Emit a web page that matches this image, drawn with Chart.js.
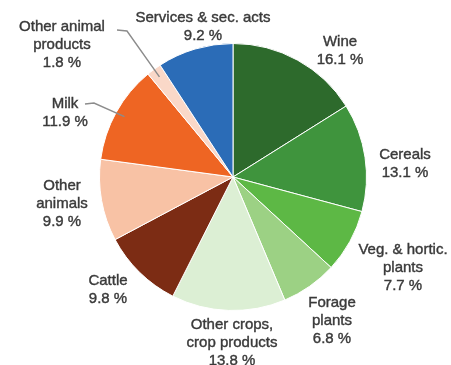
<!DOCTYPE html>
<html>
<head>
<meta charset="utf-8">
<script src="https://cdn.jsdelivr.net/npm/chart.js@4.4.1/dist/chart.umd.min.js"></script>
<style>
  html, body { margin: 0; padding: 0; background: #ffffff; }
  #wrap { width: 451px; height: 365px; }
</style>
</head>
<body>
<div id="wrap"><canvas id="pie" width="451" height="365"></canvas></div>
<script>
// Share of agricultural output by product, clockwise from the top
const categories = [
  'Wine', 'Cereals', 'Veg. & hortic. plants', 'Forage plants',
  'Other crops, crop products', 'Cattle', 'Other animals', 'Milk',
  'Other animal products', 'Services & sec. acts'
];
const shares = [16.1, 13.1, 7.7, 6.8, 13.8, 9.8, 9.9, 11.9, 1.8, 9.2];

// How each category name is broken over lines in its label
const labelLines = [
  ['Wine'], ['Cereals'], ['Veg. & hortic.', 'plants'], ['Forage', 'plants'],
  ['Other crops,', 'crop products'], ['Cattle'], ['Other', 'animals'], ['Milk'],
  ['Other animal', 'products'], ['Services & sec. acts']
];

const sliceColors = [
  '#2d6a2c', '#3f943d', '#5db845', '#9cd184', '#dcefd4',
  '#7c2c14', '#f8c2a5', '#ee6523', '#fad8c8', '#2b6cb7'
];

// Label block centres (first line) and leader lines, in canvas pixels
const labelAnchors = [
  [340, 42], [405, 155], [403, 250], [332, 303], [232, 325],
  [108, 281], [62, 186], [65, 104], [62, 27], [203, 18]
];
const leaders = { 7: [[85, 104], [94, 103]], 8: [[117, 30], [127, 31]] };

const LINE_H = 18;
const FONT = '15px "Liberation Sans", Arial, sans-serif';

const labelPlugin = {
  id: 'sliceLabels',
  afterDatasetsDraw(chart) {
    const ctx = chart.ctx;
    const arcs = chart.getDatasetMeta(0).data;
    ctx.save();
    // leader lines from label to slice
    ctx.strokeStyle = '#8c8c8c';
    ctx.lineWidth = 1.4;
    Object.keys(leaders).forEach(k => {
      const i = +k;
      const arc = arcs[i];
      const mid = (arc.startAngle + arc.endAngle) / 2;
      const r = arc.outerRadius * 0.93;
      const ex = arc.x + Math.cos(mid) * r;
      const ey = arc.y + Math.sin(mid) * r;
      const pts = leaders[k];
      ctx.beginPath();
      ctx.moveTo(pts[0][0], pts[0][1]);
      ctx.lineTo(pts[1][0], pts[1][1]);
      ctx.lineTo(ex, ey);
      ctx.stroke();
    });
    ctx.font = FONT;
    ctx.fillStyle = '#3a3a3a';
    ctx.strokeStyle = '#3a3a3a';
    ctx.lineWidth = 0.4;
    ctx.textAlign = 'center';
    ctx.textBaseline = 'middle';
    labelLines.forEach((lines, i) => {
      const [x, y] = labelAnchors[i];
      const all = lines.concat([shares[i].toFixed(1) + ' %']);
      all.forEach((t, j) => {
        ctx.fillText(t, x, y + j * LINE_H);
        ctx.strokeText(t, x, y + j * LINE_H);
      });
    });
    ctx.restore();
  }
};

new Chart(document.getElementById('pie'), {
  type: 'pie',
  data: {
    labels: categories,
    datasets: [{
      data: shares,
      backgroundColor: sliceColors,
      borderColor: '#ffffff',
      borderWidth: 1
    }]
  },
  options: {
    responsive: false,
    animation: false,
    layout: { padding: { left: 99, right: 84, top: 43, bottom: 54 } },
    plugins: { legend: { display: false }, tooltip: { enabled: false } }
  },
  plugins: [labelPlugin]
});
</script>
</body>
</html>
